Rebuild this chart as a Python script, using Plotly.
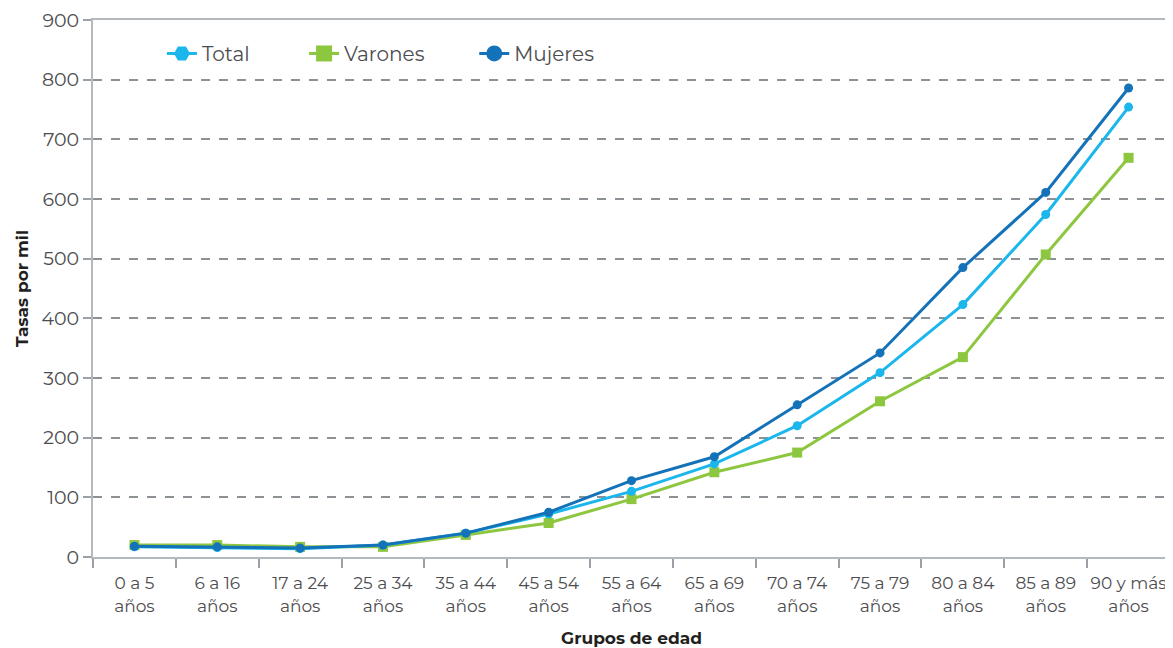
import plotly.graph_objects as go

grupos = ["0 a 5<br>años", "6 a 16<br>años", "17 a 24<br>años", "25 a 34<br>años",
          "35 a 44<br>años", "45 a 54<br>años", "55 a 64<br>años", "65 a 69<br>años",
          "70 a 74<br>años", "75 a 79<br>años", "80 a 84<br>años", "85 a 89<br>años",
          "90 y más<br>años"]
total = [17, 16, 14, 20, 40, 72, 110, 156, 220, 309, 423, 574, 754]
varones = [20, 20, 17, 17, 37, 57, 97, 142, 175, 261, 335, 507, 669]
mujeres = [18, 17, 15, 20, 40, 75, 128, 168, 255, 342, 485, 611, 786]

c_total = "#1ab6ec"
c_varones = "#8dc63f"
c_mujeres = "#1472b8"
grid = "#8c9196"
axis_line = "#b4b9be"
txt = "#4d4d4f"

fig = go.Figure()

# series drawn in the plot (no legend entries)
fig.add_trace(go.Scatter(x=grupos, y=varones, mode="lines+markers", showlegend=False,
                         line=dict(color=c_varones, width=3),
                         marker=dict(symbol="square", size=10, color=c_varones)))
fig.add_trace(go.Scatter(x=grupos, y=total, mode="lines+markers", showlegend=False,
                         line=dict(color=c_total, width=3),
                         marker=dict(symbol="circle", size=9, color=c_total)))
fig.add_trace(go.Scatter(x=grupos, y=mujeres, mode="lines+markers", showlegend=False,
                         line=dict(color=c_mujeres, width=3),
                         marker=dict(symbol="circle", size=9, color=c_mujeres)))

# legend-only entries, one legend each so they can be spaced like the original
entries = [("Total", c_total, "hexagon2", "legend", 0.064),
           ("Varones", c_varones, "square", "legend2", 0.196),
           ("Mujeres", c_mujeres, "circle", "legend3", 0.354)]
legends = {}
for name, col, sym, lg, lx in entries:
    fig.add_trace(go.Scatter(x=[None], y=[None], mode="lines+markers", name=name, legend=lg,
                             line=dict(color=col, width=3),
                             marker=dict(symbol=sym, size=24, color=col)))
    legends[lg] = dict(orientation="h", x=lx, y=0.974, xanchor="left", yanchor="top",
                       font=dict(size=20, color=txt), itemsizing="trace",
                       bgcolor="rgba(0,0,0,0)")

# page body has an 8px margin, so the figure is sized/margined to land where the original is
fig.update_layout(
    width=1165, height=640,
    paper_bgcolor="white", plot_bgcolor="white",
    font=dict(family="Montserrat, 'Open Sans', sans-serif", color=txt, size=16),
    margin=dict(l=85, r=3, t=12, b=91),
    **legends,
)

fig.update_xaxes(
    type="category", range=[-0.5, 12.5], automargin=False, tickangle=0,
    showline=True, linecolor=axis_line, linewidth=2, mirror=True,
    ticks="outside", tickson="boundaries", ticklen=9, tickwidth=2, tickcolor="#9aa0a6",
    ticklabelstandoff=10,
    showgrid=False, tickfont=dict(size=17, color=txt),
    title=dict(text="<b>Grupos de edad</b>", font=dict(size=17, color="#231f20"), standoff=18),
)
fig.update_yaxes(
    range=[0, 900], dtick=100, automargin=False,
    showline=True, linecolor=axis_line, linewidth=2, mirror=True,
    ticks="outside", ticklen=8, tickwidth=2, tickcolor="#9aa0a6",
    showgrid=True, gridcolor=grid, griddash="dash", gridwidth=1.5, zeroline=False,
    tickfont=dict(size=19, color=txt),
    title=dict(text="<b>Tasas por mil</b>", font=dict(size=17, color="#231f20"), standoff=9),
)

fig.write_html("out.html")
